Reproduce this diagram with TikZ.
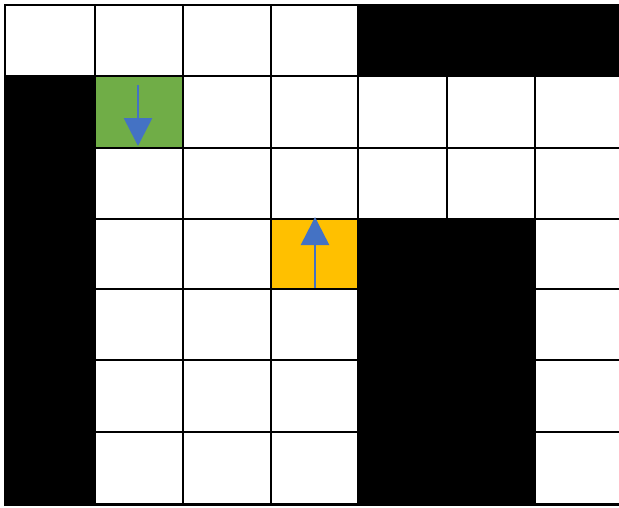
\documentclass[tikz,border=0pt]{standalone}
\usetikzlibrary{arrows.meta}
\definecolor{cellgreen}{HTML}{70AD47}
\definecolor{cellorange}{HTML}{FFC000}
\definecolor{arrowblue}{HTML}{4472C4}
\tikzset{
  gridline/.style={draw=black, line width=1.5pt},
  wall/.style={fill=black},
  movearrow/.style={draw=arrowblue, line width=2.6pt, -{Triangle[width=28pt,length=28pt]}}
}
\begin{document}
\begin{tikzpicture}[x=1pt,y=-1pt]
\useasboundingbox (0,0) rectangle (619,507);
\fill[white] (0,0) rectangle (619,507);
\begin{scope}
\clip (0,0) rectangle (619,507);
% coloured cells
\fill[cellgreen] (95,76) rectangle (183,148);
\fill[cellorange] (271,219) rectangle (358,289);
% grid
\foreach \xa/\xb in {5/95,95/183,183/271,271/358,358/447,447/535,535/623}{
  \foreach \ya/\yb in {5/76,76/148,148/219,219/289,289/360,360/432,432/504}{
    \draw[gridline] (\xa,\ya) rectangle (\xb,\yb);
  }
}
% walls
\fill[wall] (358,4) rectangle (625,76);
\fill[wall] (4,76) rectangle (95,505);
\fill[wall] (358,219) rectangle (535,505);
\draw[line width=2pt] (4,504.5) -- (625,504.5);
\end{scope}
% arrows
\coordinate (gs) at (138,85);
\coordinate (ge) at (138,146);
\coordinate (os) at (315,288);
\coordinate (oe) at (315,217);
\draw[movearrow] (gs) -- (ge);
\draw[movearrow] (os) -- (oe);
\end{tikzpicture}
\end{document}
